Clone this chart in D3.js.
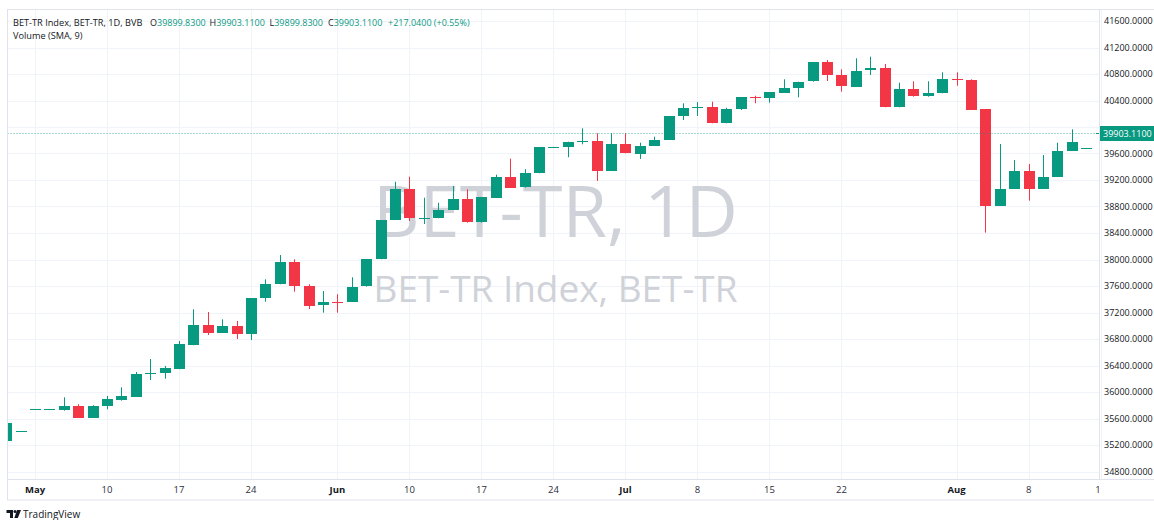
<!DOCTYPE html>
<html>
<head>
<meta charset="utf-8">
<script src="https://cdn.jsdelivr.net/npm/d3@7"></script>
<style>
    html, body { margin: 0; padding: 0; background: #ffffff; }
    svg { display: block; font-family: "Open Sans", "Noto Sans", sans-serif; }
</style>
</head>
<body>
<div class="chart"></div>
<script>
// trading days (one candle each)
const dates = [
    "2024-04-29", "2024-04-30", "2024-05-02", "2024-05-06", "2024-05-07", "2024-05-08", "2024-05-09", "2024-05-10",
    "2024-05-13", "2024-05-14", "2024-05-15", "2024-05-16", "2024-05-17",
    "2024-05-20", "2024-05-21", "2024-05-22", "2024-05-23", "2024-05-24",
    "2024-05-27", "2024-05-28", "2024-05-29", "2024-05-30", "2024-05-31",
    "2024-06-03", "2024-06-04", "2024-06-05", "2024-06-06", "2024-06-07",
    "2024-06-10", "2024-06-11", "2024-06-12", "2024-06-13", "2024-06-14",
    "2024-06-17", "2024-06-18", "2024-06-19", "2024-06-20", "2024-06-21",
    "2024-06-24", "2024-06-25", "2024-06-26", "2024-06-27", "2024-06-28",
    "2024-07-01", "2024-07-02", "2024-07-03", "2024-07-04", "2024-07-05",
    "2024-07-08", "2024-07-09", "2024-07-10", "2024-07-11", "2024-07-12",
    "2024-07-15", "2024-07-16", "2024-07-17", "2024-07-18", "2024-07-19",
    "2024-07-22", "2024-07-23", "2024-07-24", "2024-07-25", "2024-07-26",
    "2024-07-29", "2024-07-30", "2024-07-31", "2024-08-01", "2024-08-02",
    "2024-08-05", "2024-08-06", "2024-08-07", "2024-08-08", "2024-08-09",
    "2024-08-12", "2024-08-13", "2024-08-14", "2024-08-15"
];

const open = [
    35260, 35407, 35739, 35739, 35728, 35789, 35612, 35789,
    35879, 35925, 36270, 36283, 36343,
    36705, 37011, 36895, 36996, 36871,
    37414, 37626, 37958, 37600, 37309,
    37362, 37359, 37590, 38003, 38596,
    39060, 38615, 38622, 38747, 38909,
    38556, 38939, 39250, 39084, 39301,
    39694, 39698, 39790, 39793, 39336,
    39743, 39603, 39713, 39804, 40166,
    40290, 40297, 40056, 40272, 40452,
    40433, 40524, 40593, 40684, 40977,
    40780, 40608, 40850, 40886, 40297,
    40569, 40457, 40509, 40730, 40710,
    40272, 38808, 39069, 39336, 39069,
    39250, 39642, 39686.07, 39899.83
];
const high = [
    35537, 35407, 35739, 35739, 35920, 35815, 35800, 35940,
    36071, 36302, 36498, 36393, 36770,
    37248, 37208, 37097, 37072, 37414,
    37701, 38068, 38003, 37626, 37525,
    37475, 37731, 38003, 38596, 39174,
    39250, 38933, 38857, 39110, 39060,
    38939, 39280, 39522, 39362, 39694,
    39700, 39778, 39980, 39905, 39905,
    39905, 39763, 39854, 40166, 40358,
    40377, 40382, 40290, 40448, 40472,
    40524, 40720, 40684, 40977, 41011,
    40871, 41037, 41061, 40951, 40669,
    40690, 40690, 40826, 40826, 40720,
    40272, 39743, 39502, 39442, 39577,
    39763, 39965, 39686.07, 39903.11
];
const low = [
    35260, 35407, 35739, 35739, 35718, 35612, 35612, 35739,
    35869, 35925, 36181, 36201, 36343,
    36705, 36860, 36895, 36800, 36785,
    37363, 37626, 37514, 37253, 37197,
    37197, 37359, 37590, 38003, 38596,
    38580, 38536, 38622, 38747, 38556,
    38556, 38939, 39084, 39084, 39301,
    39694, 39543, 39739, 39185, 39336,
    39603, 39517, 39713, 39804, 40106,
    40166, 40056, 40056, 40257, 40358,
    40367, 40524, 40448, 40684, 40694,
    40533, 40608, 40785, 40297, 40297,
    40457, 40457, 40509, 40623, 40257,
    38405, 38808, 39069, 38888, 39069,
    39250, 39642, 39686.07, 39899.83
];
const close = [
    35537, 35407, 35739, 35739, 35789, 35612, 35789, 35890,
    35940, 36276, 36282, 36358, 36720,
    37011, 36895, 36996, 36871, 37414,
    37626, 37958, 37590, 37303, 37359,
    37355, 37590, 38003, 38596, 39060,
    38622, 38630, 38747, 38909, 38556,
    38939, 39250, 39084, 39301, 39694,
    39698, 39778, 39796, 39336, 39743,
    39603, 39718, 39804, 40166, 40291,
    40300, 40056, 40272, 40448, 40440,
    40524, 40593, 40684, 40977, 40780,
    40608, 40850, 40886, 40297, 40569,
    40457, 40509, 40720, 40712, 40257,
    38808, 39069, 39336, 39069, 39250,
    39642, 39778, 39686.07, 39903.11
];

const priceTicks = [34800, 35200, 35600, 36000, 36400, 36800, 37200, 37600, 38000, 38400, 38800, 39200, 39600, 40000, 40400, 40800, 41200, 41600];
const timeTickDates = ["2024-05-02", "2024-05-10", "2024-05-17", "2024-05-24", "2024-06-03", "2024-06-10", "2024-06-17", "2024-06-24",
    "2024-07-01", "2024-07-08", "2024-07-15", "2024-07-22", "2024-08-01", "2024-08-08", "2024-08-15"];
const timeTickLabels = ["May", "10", "17", "24", "Jun", "10", "17", "24", "Jul", "8", "15", "22", "Aug", "8", "15"];

const symbolTitle = "BET-TR Index, BET-TR, 1D, BVB";
const lastChange = "+217.0400 (+0.55%)";
const studyTitle = "Volume (SMA, 9)";
const watermark = ["BET-TR, 1D", "BET-TR Index, BET-TR"];

const UP = "#089981";
const DOWN = "#F23645";

class Kandela {
    constructor() {
        this.width = 1154;
        this.height = 520;
        this.plot = { left: 7.5, right: 1099, top: 9.5, bottom: 479.5 };
        this.bars = dates.map((d, i) => ({ date: d, o: open[i], h: high[i], l: low[i], c: close[i] }));
        this.init();
    }

    init() {
        this.svg = d3.select(".chart").append("svg")
            .attr("width", this.width)
            .attr("height", this.height);

        this.x = d3.scalePoint().domain(dates).range([6.2, 1100.6]);
        this.y = d3.scaleLinear().domain([34800, 41600]).range([471.5, 21]);

        this.svg.append("defs").append("clipPath").attr("id", "plotClip")
            .append("rect")
            .attr("x", this.plot.left).attr("y", this.plot.top)
            .attr("width", this.plot.right - this.plot.left)
            .attr("height", this.plot.bottom - this.plot.top);

        this.drawGrid();
        this.drawWatermark();
        this.drawCandles();
        this.drawFrame();
        this.drawPriceAxis();
        this.drawTimeAxis();
        this.drawLegend();
        this.drawLogo();
    }

    drawGrid() {
        const g = this.svg.append("g").attr("class", "grid");
        g.selectAll(".hline").data(priceTicks).enter().append("line")
            .attr("x1", this.plot.left).attr("x2", this.plot.right)
            .attr("y1", d => Math.round(this.y(d)) + 0.5)
            .attr("y2", d => Math.round(this.y(d)) + 0.5)
            .attr("stroke", "#f0f3fa");
        g.selectAll(".vline").data(timeTickDates).enter().append("line")
            .attr("x1", d => Math.round(this.x(d)) + 0.5)
            .attr("x2", d => Math.round(this.x(d)) + 0.5)
            .attr("y1", this.plot.top).attr("y2", this.plot.bottom)
            .attr("stroke", "#f0f3fa");
    }

    drawWatermark() {
        const g = this.svg.append("g").attr("clip-path", "url(#plotClip)");
        const specs = [
            { text: watermark[0], base: 237, width: 365, size: 80 },
            { text: watermark[1], base: 302, width: 364, size: 38 }
        ];
        specs.forEach(s => {
            const t = g.append("text")
                .attr("x", 555.5).attr("y", s.base)
                .attr("text-anchor", "middle")
                .style("font-size", s.size + "px")
                .style("fill", "#cfd2d8")
                .text(s.text);
            const w = t.node().getComputedTextLength();
            if (w > 0) t.style("font-size", (s.size * s.width / w) + "px");
        });
    }

    drawCandles() {
        const g = this.svg.append("g").attr("clip-path", "url(#plotClip)");
        const bw = 11;
        const candle = g.selectAll(".candle").data(this.bars).enter().append("g")
            .attr("class", "candle");

        candle.append("line")
            .attr("x1", d => Math.round(this.x(d.date)) + 0.5)
            .attr("x2", d => Math.round(this.x(d.date)) + 0.5)
            .attr("y1", d => this.y(d.h))
            .attr("y2", d => this.y(d.l))
            .attr("stroke", d => d.c >= d.o ? UP : DOWN)
            .attr("stroke-width", 1);

        candle.append("rect")
            .attr("x", d => Math.round(this.x(d.date)) - 5)
            .attr("width", bw)
            .attr("y", d => Math.round(this.y(Math.max(d.o, d.c))))
            .attr("height", d => Math.max(1, Math.round(Math.abs(this.y(d.o) - this.y(d.c)))))
            .attr("fill", d => d.c >= d.o ? UP : DOWN);

        // last price dotted line
        const last = this.bars[this.bars.length - 1];
        const ly = Math.round(this.y(last.c)) + 0.5;
        this.svg.append("line")
            .attr("x1", this.plot.left).attr("x2", this.plot.right)
            .attr("y1", ly).attr("y2", ly)
            .attr("stroke", UP)
            .attr("stroke-dasharray", "1,2")
            .attr("stroke-opacity", 0.7);
    }

    drawFrame() {
        const f = this.svg.append("g").attr("class", "frame")
            .attr("stroke", "#e0e3eb").attr("fill", "none");
        f.append("rect").attr("x", 7.5).attr("y", 9.5).attr("width", 1154 - 7.5 + 5).attr("height", 500 - 9.5);
        f.append("line").attr("x1", 7.5).attr("x2", 1154).attr("y1", this.plot.bottom).attr("y2", this.plot.bottom);
        f.append("line").attr("x1", this.plot.right + 0.5).attr("x2", this.plot.right + 0.5).attr("y1", 9.5).attr("y2", this.plot.bottom);
    }

    drawPriceAxis() {
        const g = this.svg.append("g").attr("class", "price-axis");
        const last = this.bars[this.bars.length - 1];
        const ly = this.y(last.c);
        // the tick hidden under the last-price box is left out
        const visible = priceTicks.filter(d => Math.abs(this.y(d) - ly) > 9);
        g.selectAll("text").data(visible).enter().append("text")
            .attr("x", 1104)
            .attr("y", d => this.y(d))
            .attr("dy", "0.35em")
            .style("font-size", "9px")
            .style("fill", "#131722")
            .text(d => d3.format(".4f")(d));

        g.append("rect")
            .attr("x", this.plot.right + 1).attr("y", Math.round(ly) - 7)
            .attr("width", this.width - this.plot.right).attr("height", 15)
            .attr("fill", UP);
        g.append("text")
            .attr("x", 1103).attr("y", ly)
            .attr("dy", "0.35em")
            .style("font-size", "9px")
            .style("fill", "#ffffff")
            .text(d3.format(".4f")(last.c));
    }

    drawTimeAxis() {
        this.svg.select("defs").append("clipPath").attr("id", "timeClip")
            .append("rect").attr("x", 7.5).attr("y", 480).attr("width", this.plot.right - 7.5).attr("height", 20);
        const g = this.svg.append("g").attr("clip-path", "url(#timeClip)");
        g.selectAll("text").data(timeTickDates).enter().append("text")
            .attr("x", d => this.x(d))
            .attr("y", 490)
            .attr("dy", "0.35em")
            .attr("text-anchor", "middle")
            .style("font-size", "9.5px")
            .style("font-weight", (d, i) => isNaN(+timeTickLabels[i]) ? 700 : 400)
            .style("fill", (d, i) => isNaN(+timeTickLabels[i]) ? "#131722" : "#2a2e39")
            .text((d, i) => timeTickLabels[i]);
    }

    drawLegend() {
        const last = this.bars[this.bars.length - 1];
        const fmt = d3.format(".4f");
        const g = this.svg.append("g").attr("class", "legend")
            .style("font-size", "9.2px");
        g.append("text").attr("x", 13).attr("y", 26).style("fill", "#131722").text(symbolTitle);

        const parts = [
            { k: "O", v: fmt(last.o), x: 150 },
            { k: "H", v: fmt(last.h), x: 209.5 },
            { k: "L", v: fmt(last.l), x: 269.5 },
            { k: "C", v: fmt(last.c), x: 328 }
        ];
        parts.forEach(p => {
            const t = g.append("text").attr("x", p.x).attr("y", 26).style("font-size", "9px");
            t.append("tspan").style("fill", "#131722").text(p.k);
            t.append("tspan").style("fill", UP).text(p.v);
        });
        g.append("text").attr("x", 388).attr("y", 26).style("font-size", "9px").style("fill", UP).text(lastChange);
        g.append("text").attr("x", 13).attr("y", 39).style("fill", "#131722").text(studyTitle);
    }

    drawLogo() {
        const g = this.svg.append("g").attr("class", "logo").attr("fill", "#131722");
        g.append("path").attr("d", "M6.5 510 H13 V518 H10 V513 H6.5 Z");
        g.append("circle").attr("cx", 15).attr("cy", 511.5).attr("r", 1.5);
        g.append("path").attr("d", "M17 510 H21 L17.8 518 H14.3 Z");
        g.append("text").attr("x", 23).attr("y", 518)
            .style("font-size", "10px")
            .style("fill", "#131722")
            .text("TradingView");
    }
}

new Kandela();
</script>
</body>
</html>
